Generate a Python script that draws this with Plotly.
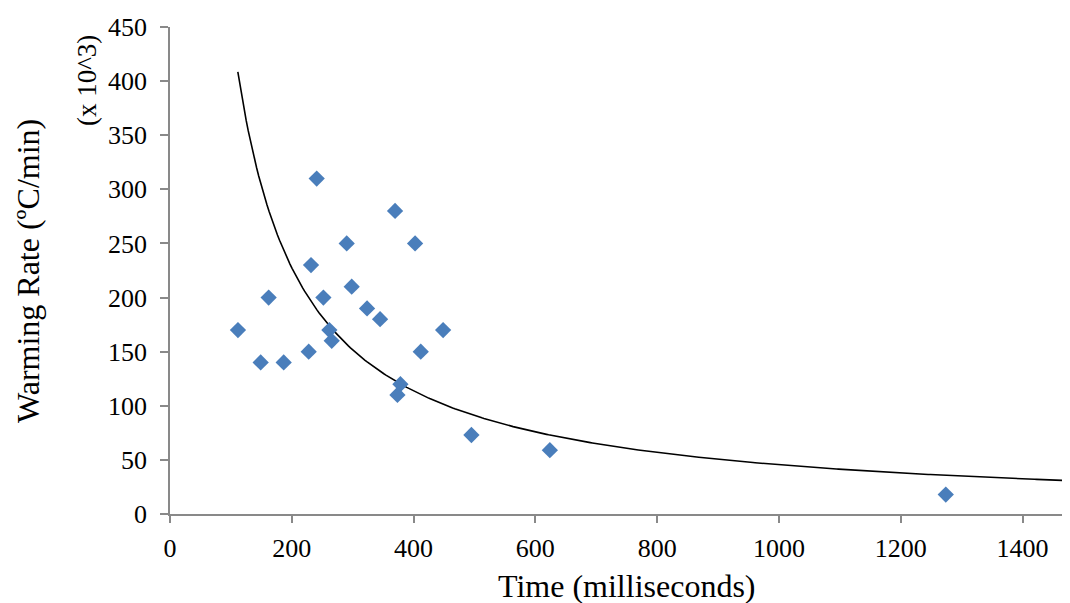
import numpy as np
import plotly.graph_objects as go

# Measured points (time in ms, warming rate in x10^3 °C/min)
time_ms = [111.6, 148.9, 162, 186.7, 227.8, 231.6, 240.9, 251.9, 261.7, 265.6,
           290.2, 298.4, 323.6, 345, 369.6, 378.4, 373.5, 402.5, 411.8, 448.5,
           495, 623.8, 1274]
rate = [170, 140, 200, 140, 150, 230, 310, 200, 170, 160,
        250, 210, 190, 180, 280, 120, 110, 250, 150, 170,
        73, 59, 18]

# Power-law trendline parameters (y = a * x^b)
trend_a = 45500
trend_b = -1.0
trend_start = 111.4
trend_end = 1478

x_ticks = [0, 200, 400, 600, 800, 1000, 1200, 1400]
y_ticks = [0, 50, 100, 150, 200, 250, 300, 350, 400, 450]

tx = np.linspace(trend_start, trend_end, 400)
ty = trend_a * tx ** trend_b

FONT = "Liberation Serif, Times New Roman, serif"
AXIS_COLOR = "#898989"

fig = go.Figure()
fig.add_trace(go.Scatter(x=tx, y=ty, mode="lines",
                         line=dict(color="black", width=1.6),
                         hoverinfo="skip", showlegend=False))
fig.add_trace(go.Scatter(x=time_ms, y=rate, mode="markers",
                         marker=dict(symbol="diamond", size=12.5, color="#4A7EBB",
                                     line=dict(width=0)),
                         showlegend=False))

fig.update_layout(
    width=1062, height=595,
    margin=dict(l=162, r=0, t=19, b=89),
    paper_bgcolor="white", plot_bgcolor="white",
    font=dict(family=FONT, color="black", size=26),
    xaxis=dict(range=[0, 1478], tickvals=x_ticks, showgrid=False, zeroline=False,
               showline=True, linecolor=AXIS_COLOR, linewidth=1.5,
               ticks="outside", ticklen=7, tickcolor=AXIS_COLOR, tickwidth=1.5,
               ticklabelstandoff=3,
               tickfont=dict(family=FONT, size=26, color="black")),
    yaxis=dict(range=[0, 450], tickvals=y_ticks, showgrid=False, zeroline=False,
               showline=True, linecolor=AXIS_COLOR, linewidth=1.5,
               ticks="outside", ticklen=8, tickcolor=AXIS_COLOR, tickwidth=1.5,
               ticklabelstandoff=8,
               tickfont=dict(family=FONT, size=26, color="black")),
    annotations=[
        dict(text="Time (milliseconds)", xref="paper", yref="paper",
             x=0.5067, y=-0.148, xanchor="center", yanchor="middle",
             showarrow=False, font=dict(family=FONT, size=32, color="black")),
        dict(text="Warming Rate (ºC/min)", xref="paper", yref="paper",
             x=-0.1578, y=0.499, xanchor="center", yanchor="middle", textangle=-90,
             showarrow=False, font=dict(family=FONT, size=32, color="black")),
        dict(text="(x 10^3)", xref="paper", yref="paper",
             x=-0.0922, y=0.889, xanchor="center", yanchor="middle", textangle=-90,
             showarrow=False, font=dict(family=FONT, size=27, color="black")),
    ],
)

fig.write_html("out.html")
